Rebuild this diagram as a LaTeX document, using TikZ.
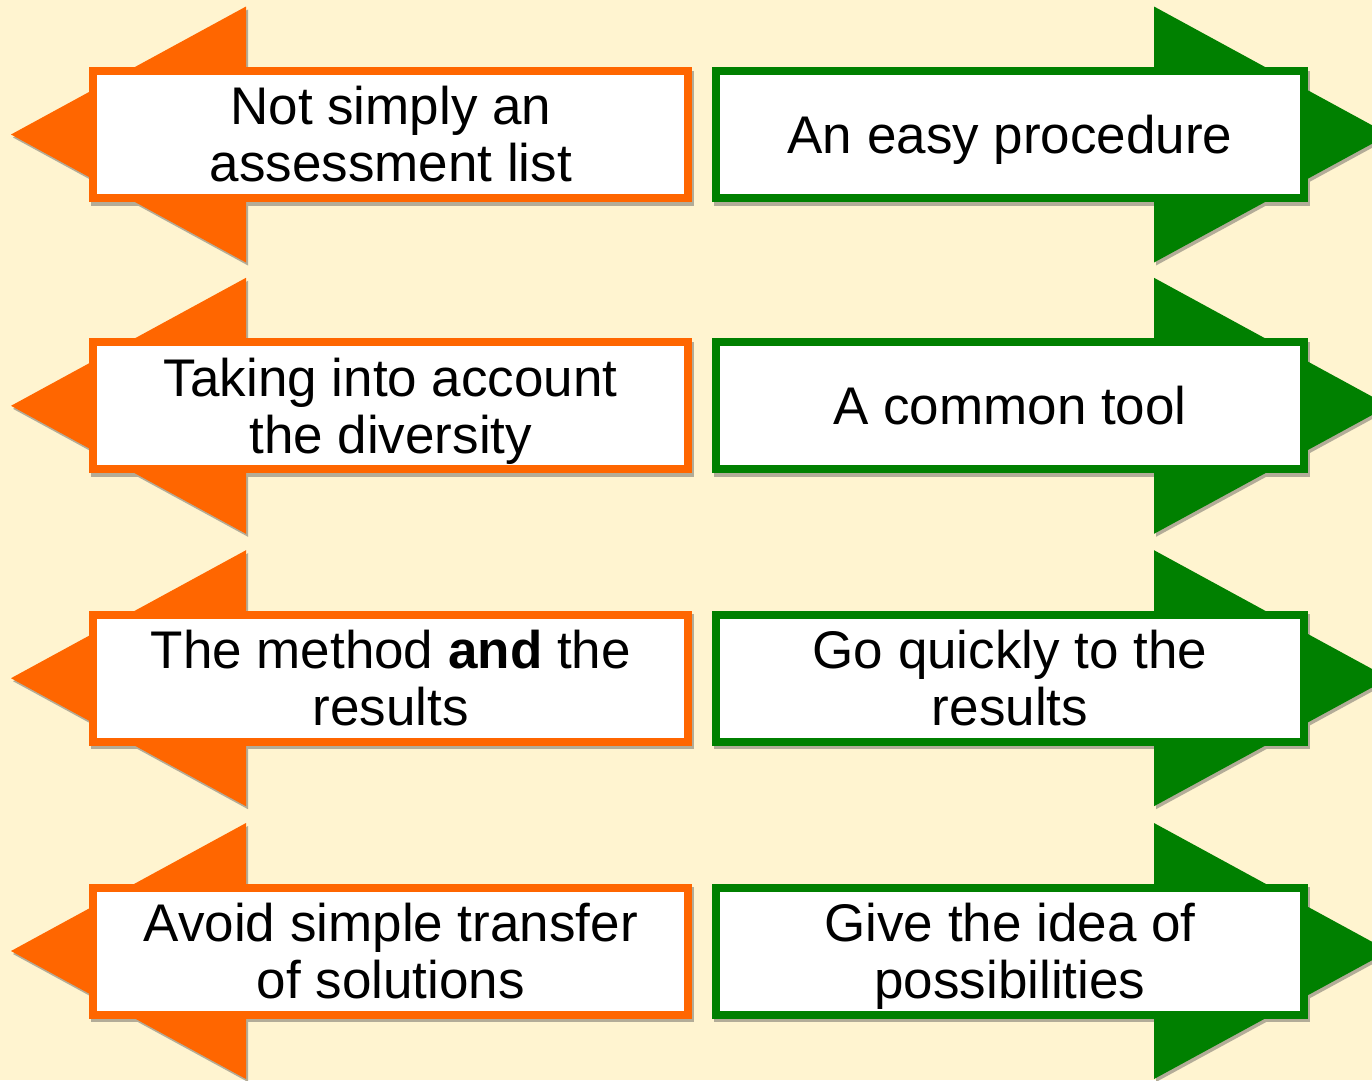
\documentclass[tikz,border=0pt]{standalone}
\usepackage{fontspec}
\setmainfont{Liberation Sans}
\definecolor{bg}{HTML}{FFF4D0}
\definecolor{org}{HTML}{FF6600}
\definecolor{grn}{HTML}{008000}
\definecolor{shd}{HTML}{B3AC98}
\tikzset{
  box/.style={draw=#1, line width=8pt, fill=white, minimum width=595pt,
    minimum height=127pt, inner sep=0pt, align=center,
    font=\fontsize{53}{57}\selectfont},
}
\newcommand\LeftRow[3]{%
  \fill[shd] (13,#2+3) -- (248,#2-125) -- (248,#2+131) -- cycle;
  \fill[shd] (91,#2-64) rectangle (694,#2+71);
  \fill[org] (11,#2) -- (246,#2-128) -- (246,#2+128) -- cycle;
  \node[box=org] (#1) at (390.8,#2) {#3};
}
\newcommand\RightRow[3]{%
  \fill[shd] (1156,#2-125) -- (1391,#2+3) -- (1156,#2+131) -- cycle;
  \fill[shd] (714,#2-64) rectangle (1310,#2+71);
  \fill[grn] (1154,#2-128) -- (1389,#2) -- (1154,#2+128) -- cycle;
  \node[box=grn, minimum width=588pt] (#1) at (1010,#2) {#3};
}
\begin{document}
\begin{tikzpicture}[x=1pt,y=-1pt]
\useasboundingbox (0,0) rectangle (1372,1080);
\begin{scope}
\clip (0,0) rectangle (1372,1080);
\fill[bg] (0,0) rectangle (1372,1080);
\LeftRow{l1}{134.5}{Not simply an\\assessment list}
\LeftRow{l2}{405.8}{Taking into account\\\smash{the diversity}}
\LeftRow{l3}{678.2}{The method \textbf{and} the\\results}
\LeftRow{l4}{951}{Avoid simple transfer\\of solutions}
\RightRow{r1}{134.5}{\vphantom{l}\smash{An easy procedure}}
\RightRow{r2}{405.8}{A common tool}
\RightRow{r3}{678.2}{Go quickly to the\\results}
\RightRow{r4}{951}{Give the idea of\\\smash{possibilities}}
\end{scope}
\end{tikzpicture}
\end{document}
